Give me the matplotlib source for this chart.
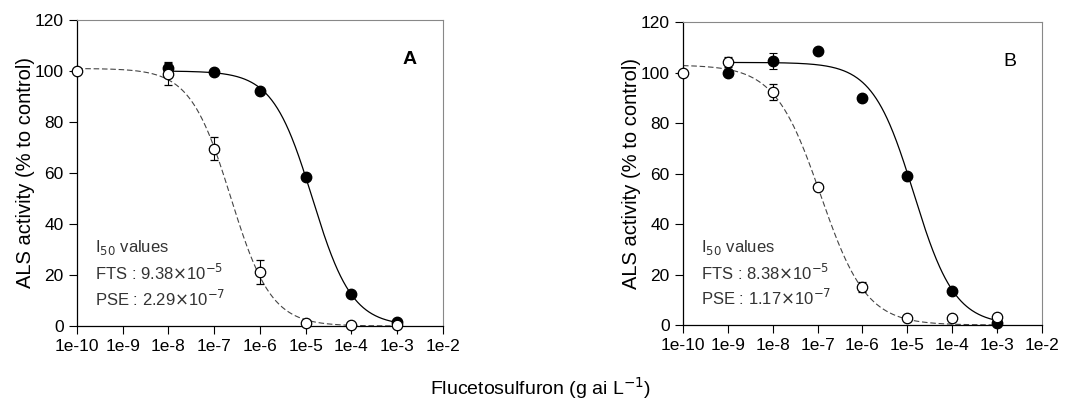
import numpy as np
import matplotlib
matplotlib.use("Agg")
import matplotlib.pyplot as plt

plt.rcParams['font.family'] = ['Liberation Sans', 'DejaVu Sans']

# ---------------- data ----------------
xtick_labels = ['1e-10', '1e-9', '1e-8', '1e-7', '1e-6', '1e-5', '1e-4', '1e-3', '1e-2']
xticks = [1e-10, 1e-9, 1e-8, 1e-7, 1e-6, 1e-5, 1e-4, 1e-3, 1e-2]

# Panel A
a_fts_x = [1e-8, 1e-7, 1e-6, 1e-5, 1e-4, 1e-3]
a_fts_y = [101.0, 99.5, 92.0, 58.5, 12.4, 1.5]
a_fts_err = [2.0, 0.8, 0.8, 0.8, 0.8, 0.5]
a_pse_x = [1e-10, 1e-8, 1e-7, 1e-6, 1e-5, 1e-4, 1e-3]
a_pse_y = [100.0, 99.0, 69.6, 21.2, 1.0, 0.5, 0.3]
a_pse_err = [0.5, 4.5, 4.5, 4.7, 0.5, 0.3, 0.3]

# Panel B
b_fts_x = [1e-9, 1e-8, 1e-7, 1e-6, 1e-5, 1e-4, 1e-3]
b_fts_y = [100.0, 104.6, 108.6, 90.1, 59.1, 13.5, 0.7]
b_fts_err = [0.8, 3.2, 0.8, 0.8, 0.8, 0.8, 0.3]
b_pse_x = [1e-10, 1e-9, 1e-8, 1e-7, 1e-6, 1e-5, 1e-4, 1e-3]
b_pse_y = [100.0, 104.2, 92.3, 54.7, 14.9, 2.9, 2.9, 3.3]
b_pse_err = [0.5, 2.0, 3.3, 0.8, 2.0, 0.8, 0.8, 0.8]

# Fitted log-logistic parameters (top, I50, slope)
a_fts_fit = (100.0, 1.4e-5, 1.0)
a_pse_fit = (101.0, 2.29e-7, 0.98)
b_fts_fit = (104.0, 1.4e-5, 0.95)
b_pse_fit = (103.0, 1.17e-7, 0.85)

a_texts = [r'I$_{50}$ values', r'FTS : 9.38$\times$10$^{-5}$', r'PSE : 2.29$\times$10$^{-7}$']
b_texts = [r'I$_{50}$ values', r'FTS : 8.38$\times$10$^{-5}$', r'PSE : 1.17$\times$10$^{-7}$']


def loglogistic(x, top, c, b):
    return top / (1.0 + (x / c) ** b)


fig = plt.figure(figsize=(10.81, 4.08), dpi=100)
axA = fig.add_axes([0.0712, 0.201, 0.3386, 0.750])
axB = fig.add_axes([0.6318, 0.2034, 0.332, 0.7426])


def draw(ax, fx, fy, fe, px, py, pe, ffit, pfit, texts, label, bold):
    xf = np.logspace(np.log10(fx[0]), np.log10(fx[-1]), 400)
    xp = np.logspace(np.log10(px[0]), np.log10(px[-1]), 400)
    ax.plot(xf, loglogistic(xf, *ffit), color='black', lw=0.9, zorder=2)
    ax.plot(xp, loglogistic(xp, *pfit), color='#444444', lw=0.8,
            ls=(0, (5, 2.5)), zorder=2)
    ax.errorbar(fx, fy, yerr=fe, fmt='o', ms=7.5, mfc='black', mec='black',
                ecolor='black', elinewidth=0.8, capsize=3, capthick=0.8,
                zorder=4, clip_on=False)
    ax.errorbar(px, py, yerr=pe, fmt='o', ms=7.5, mfc='white', mec='black',
                mew=0.9, ecolor='black', elinewidth=0.8, capsize=3,
                capthick=0.8, zorder=5, clip_on=False)
    ax.set_xscale('log')
    ax.set_xlim(1e-10, 1e-2)
    ax.set_ylim(0, 120)
    ax.set_xticks(xticks)
    ax.set_xticklabels(xtick_labels)
    ax.minorticks_off()
    ax.set_yticks([0, 20, 40, 60, 80, 100, 120])
    ax.tick_params(direction='out', length=5.5, width=0.8, pad=4,
                   labelsize=12.5, colors='black')
    ax.set_ylabel('ALS activity (% to control)', fontsize=14.5, labelpad=0)
    for s in ['top', 'right']:
        ax.spines[s].set_color('#888888')
        ax.spines[s].set_linewidth(0.8)
    for s in ['left', 'bottom']:
        ax.spines[s].set_linewidth(0.9)
    ys = [0.255, 0.172, 0.09]
    for t, y in zip(texts, ys):
        ax.text(0.05, y, t, transform=ax.transAxes, fontsize=12,
                color='#333333', va='center', ha='left')
    ax.text(0.91, 0.87, label, transform=ax.transAxes, fontsize=14,
            fontweight='bold' if bold else 'normal', ha='center', va='center')


draw(axA, a_fts_x, a_fts_y, a_fts_err, a_pse_x, a_pse_y, a_pse_err,
     a_fts_fit, a_pse_fit, a_texts, 'A', True)
draw(axB, b_fts_x, b_fts_y, b_fts_err, b_pse_x, b_pse_y, b_pse_err,
     b_fts_fit, b_pse_fit, b_texts, 'B', False)

fig.text(0.5, 0.05, r'Flucetosulfuron (g ai L$^{-1}$)', ha='center',
         va='center', fontsize=14)

fig.savefig('out.png', dpi=100)
